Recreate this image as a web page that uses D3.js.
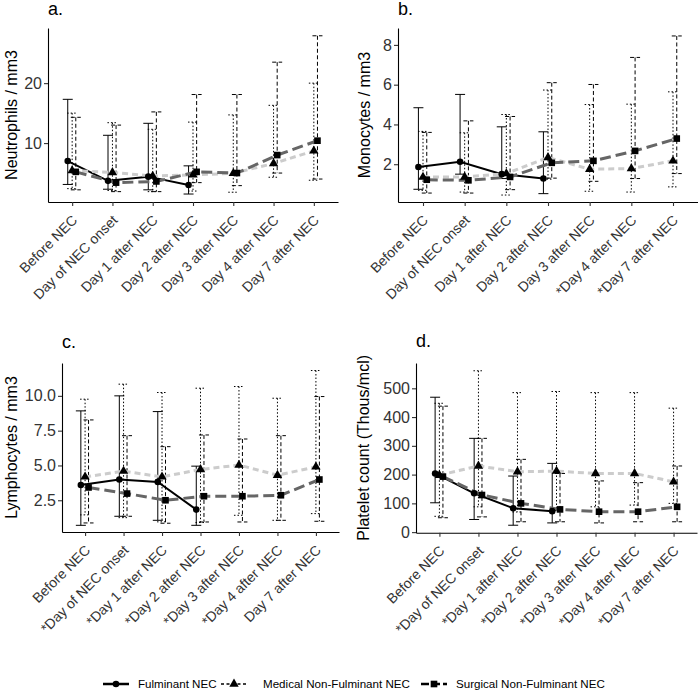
<!DOCTYPE html>
<html>
<head>
<meta charset="utf-8">
<script src="https://cdn.jsdelivr.net/npm/d3@7"></script>
<style>
  body { margin: 0; background: #fff; }
  svg { display: block; font-family: "Liberation Sans", Arial, sans-serif; }
</style>
</head>
<body>
<div class="chart"></div>
<script>
/* category labels per panel */
const labelsA = ["Before NEC", "Day of NEC onset", "Day 1 after NEC", "Day 2 after NEC", "Day 3 after NEC", "Day 4 after NEC", "Day 7 after NEC"];
const labelsB = ["Before NEC", "Day of NEC onset", "Day 1 after NEC", "Day 2 after NEC", "Day 3 after NEC", "*Day 4 after NEC", "*Day 7 after NEC"];
const labelsC = ["Before NEC", "*Day of NEC onset", "*Day 1 after NEC", "*Day 2 after NEC", "*Day 3 after NEC", "*Day 4 after NEC", "Day 7 after NEC"];
const labelsD = ["Before NEC", "*Day of NEC onset", "*Day 1 after NEC", "*Day 2 after NEC", "*Day 3 after NEC", "*Day 4 after NEC", "*Day 7 after NEC"];

/* a. Neutrophils */
const neutFul   = [7.0, 3.7, 4.4, 3.0, null, null, null];
const neutFulLo = [3.1, 2.3, 2.2, 1.5, null, null, null];
const neutFulHi = [17.3, 11.3, 13.3, 6.2, null, null, null];
const neutMed   = [5.4, 5.1, 4.5, 4.7, 4.95, 6.6, 8.7];
const neutMedLo = [2.4, 2.1, 1.9, 2.0, 1.8, 4.3, 3.8];
const neutMedHi = [15.0, 13.4, 12.3, 13.5, 14.7, 16.3, 20.0];
const neutSur   = [5.2, 3.4, 3.6, 5.2, 5.0, 8.0, 10.4];
const neutSurLo = [2.2, 1.9, 1.9, 3.4, 2.9, 5.0, 4.0];
const neutSurHi = [14.3, 13.0, 15.2, 18.1, 18.1, 23.5, 27.9];

/* b. Monocytes */
const monoFul   = [1.86, 2.12, 1.5, 1.28, null, null, null];
const monoFulLo = [0.74, 1.5, 1.28, 0.52, null, null, null];
const monoFulHi = [4.84, 5.51, 3.88, 3.63, null, null, null];
const monoMed   = [1.35, 1.36, 1.53, 2.34, 1.75, 1.78, 2.17];
const monoMedLo = [0.69, 0.6, 0.45, 1.25, 0.64, 0.6, 0.86];
const monoMedHi = [3.65, 3.58, 4.5, 5.73, 5.0, 5.02, 5.64];
const monoSur   = [1.22, 1.19, 1.36, 2.07, 2.17, 2.67, 3.29];
const monoSurLo = [0.55, 0.55, 0.72, 1.3, 1.14, 1.28, 1.53];
const monoSurHi = [3.6, 4.18, 4.4, 6.1, 6.01, 7.37, 8.45];

/* c. Lymphocytes */
const lymFul   = [3.6, 3.99, 3.82, 1.83, null, null, null];
const lymFulLo = [0.7, 1.35, 1.06, 0.7, null, null, null];
const lymFulHi = [8.92, 10.0, 8.87, 4.95, null, null, null];
const lymMed   = [4.18, 4.59, 4.18, 4.71, 5.03, 4.3, 4.9];
const lymMedLo = [1.45, 1.25, 0.95, 0.9, 1.42, 1.06, 1.54];
const lymMedHi = [9.76, 10.84, 10.24, 10.55, 10.67, 9.83, 11.82];
const lymSur   = [3.42, 2.98, 2.5, 2.79, 2.79, 2.86, 3.99];
const lymSurLo = [0.87, 1.35, 0.85, 0.94, 0.94, 1.06, 0.99];
const lymSurHi = [8.27, 7.14, 6.35, 7.19, 6.9, 7.14, 9.95];

/* d. Platelets */
const pltFul   = [204, 135, 83, 73, null, null, null];
const pltFulLo = [102, 44, 24, 32, null, null, null];
const pltFulHi = [469, 326, 195, 239, null, null, null];
const pltMed   = [198, 230, 210, 212, 204, 204, 175];
const pltMedLo = [55, 88, 70, 75, 88, 94, 100];
const pltMedHi = [448, 561, 485, 489, 485, 485, 431];
const pltSur   = [193, 129, 100, 79, 71, 71, 88];
const pltSurLo = [50, 53, 36, 36, 32, 36, 36];
const pltSurHi = [438, 326, 253, 204, 178, 172, 230];

const legendNames = ["Fulminant NEC", "Medical Non-Fulminant NEC", "Surgical Non-Fulminant NEC"];

/* series styles */
const styles = [
    { color: "#000000", width: 2,   dash: null,  bar: null,    shape: d3.symbolCircle,   size: 34, off: -0.11 },
    { color: "#cccccc", width: 3,   dash: "6,4", bar: "1.5,2", shape: d3.symbolTriangle, size: 38, off: 0 },
    { color: "#666666", width: 3,   dash: "11,5", bar: "4,2.5", shape: d3.symbolSquare,  size: 44, off: 0.09 }
];

const svg = d3.select(".chart").append("svg")
    .attr("width", 698).attr("height", 691);

function drawPanel(p) {
    const g = svg.append("g");
    const xScale = d3.scalePoint().domain(d3.range(7)).range(p.xRange).padding(0.6);
    const step = xScale.step();
    const yScale = d3.scaleLinear().domain(p.yDomain).range(p.yRange);
    const left = p.xRange[0], bottom = p.yRange[0];

    /* axes */
    const xAxis = d3.axisBottom(xScale).tickSize(4).tickSizeOuter(0).tickFormat("");
    const xg = g.append("g").attr("transform", `translate(0,${bottom})`).call(xAxis);
    const yAxis = d3.axisLeft(yScale).tickValues(p.yTicks).tickSize(4).tickSizeOuter(0).tickFormat(p.fmt);
    const yg = g.append("g").attr("transform", `translate(${left},0)`).call(yAxis);
    [xg, yg].forEach(a => {
        a.select(".domain").attr("stroke", "#000").attr("stroke-width", 1.1);
        a.selectAll(".tick line").attr("stroke", "#333").attr("stroke-width", 1.1);
    });
    yg.selectAll(".tick text").attr("font-size", 16).attr("fill", "#333").attr("x", -6);

    /* rotated category labels */
    g.selectAll(".xlab").data(p.labels).join("text")
        .attr("class", "xlab")
        .attr("x", (d, i) => xScale(i) + 6)
        .attr("y", bottom + 19)
        .attr("transform", (d, i) => `rotate(-45,${xScale(i) + 6},${bottom + 19})`)
        .attr("text-anchor", "end")
        .attr("font-size", 14).attr("fill", "#333")
        .text(d => d);

    /* y title */
    g.append("text")
        .attr("transform", `translate(${p.titleX},${(p.yRange[0] + p.yRange[1]) / 2}) rotate(-90)`)
        .attr("text-anchor", "middle").attr("font-size", 16).attr("fill", "#000")
        .text(p.yTitle);

    /* panel letter */
    g.append("text").attr("x", left).attr("y", p.letterY)
        .attr("font-size", 18).attr("fill", "#000").text(p.letter);

    const px = (i, s) => xScale(i) + styles[s].off * step;

    /* error bars */
    p.series.forEach((ser, s) => {
        const st = styles[s];
        const eb = g.append("g");
        ser.mean.forEach((m, i) => {
            if (m == null) return;
            const x = px(i, s);
            const y0 = yScale(ser.lo[i]), y1 = yScale(ser.hi[i]);
            const path = `M${x},${y1}V${y0}M${x - 5},${y1}H${x + 5}M${x - 5},${y0}H${x + 5}`;
            eb.append("path").attr("d", path)
                .attr("fill", "none").attr("stroke", "#000").attr("stroke-width", 1)
                .attr("stroke-dasharray", st.bar);
        });
    });

    /* lines */
    p.series.forEach((ser, s) => {
        const st = styles[s];
        const lineGen = d3.line()
            .defined(d => d.v != null)
            .x(d => px(d.i, s))
            .y(d => yScale(d.v));
        g.append("path")
            .datum(ser.mean.map((v, i) => ({ i, v })))
            .attr("d", lineGen)
            .attr("fill", "none").attr("stroke", st.color)
            .attr("stroke-width", st.width)
            .attr("stroke-dasharray", st.dash);
    });

    /* points */
    p.series.forEach((ser, s) => {
        const st = styles[s];
        g.selectAll(null).data(ser.mean.map((v, i) => ({ i, v })).filter(d => d.v != null))
            .join("path")
            .attr("transform", d => `translate(${px(d.i, s)},${yScale(d.v)})`)
            .attr("d", d3.symbol(st.shape, st.size))
            .attr("fill", "#000");
    });
}

drawPanel({
    letter: "a.", letterY: 15, labels: labelsA, yTitle: "Neutrophils / mm3", titleX: 17,
    xRange: [48, 338], yRange: [202, 28], yDomain: [0.17, 29.2], yTicks: [10, 20], fmt: d3.format("d"),
    series: [
        { mean: neutFul, lo: neutFulLo, hi: neutFulHi },
        { mean: neutMed, lo: neutMedLo, hi: neutMedHi },
        { mean: neutSur, lo: neutSurLo, hi: neutSurHi }
    ]
});
drawPanel({
    letter: "b.", letterY: 15, labels: labelsB, yTitle: "Monocytes / mm3", titleX: 370,
    xRange: [398, 698], yRange: [202, 28], yDomain: [0.1, 8.85], yTicks: [2, 4, 6, 8], fmt: d3.format("d"),
    series: [
        { mean: monoFul, lo: monoFulLo, hi: monoFulHi },
        { mean: monoMed, lo: monoMedLo, hi: monoMedHi },
        { mean: monoSur, lo: monoSurLo, hi: monoSurHi }
    ]
});
drawPanel({
    letter: "c.", letterY: 348, labels: labelsC, yTitle: "Lymphocytes / mm3", titleX: 17,
    xRange: [62, 339], yRange: [532, 363], yDomain: [0.22, 12.36], yTicks: [2.5, 5, 7.5, 10], fmt: d3.format(".1f"),
    series: [
        { mean: lymFul, lo: lymFulLo, hi: lymFulHi },
        { mean: lymMed, lo: lymMedLo, hi: lymMedHi },
        { mean: lymSur, lo: lymSurLo, hi: lymSurHi }
    ]
});
drawPanel({
    letter: "d.", letterY: 347, labels: labelsD, yTitle: "Platelet count (Thous/mcl)", titleX: 369,
    xRange: [416, 697], yRange: [532.7, 363], yDomain: [-2, 588], yTicks: [0, 100, 200, 300, 400, 500], fmt: d3.format("d"),
    series: [
        { mean: pltFul, lo: pltFulLo, hi: pltFulHi },
        { mean: pltMed, lo: pltMedLo, hi: pltMedHi },
        { mean: pltSur, lo: pltSurLo, hi: pltSurHi }
    ]
});

/* legend */
const legendX = [103, 221, 421];
const legendTextX = [138, 263, 456];
const legendDash = [null, "3,2.5", "8,3"];
const legend = svg.append("g").attr("transform", "translate(0,684)");
legendNames.forEach((name, i) => {
    const item = legend.append("g");
    item.append("line").attr("x1", legendX[i]).attr("x2", legendX[i] + 26).attr("y1", 0).attr("y2", 0)
        .attr("stroke", "#000").attr("stroke-width", i === 1 ? 1.5 : 2.5)
        .attr("stroke-dasharray", legendDash[i]);
    item.append("path").attr("transform", `translate(${legendX[i] + 13},0)`)
        .attr("d", d3.symbol(styles[i].shape, styles[i].size)).attr("fill", "#000");
    item.append("text").attr("x", legendTextX[i]).attr("y", 0).attr("dy", "0.35em")
        .attr("font-size", 11.6).attr("fill", "#000").text(name);
});
</script>
</body>
</html>
